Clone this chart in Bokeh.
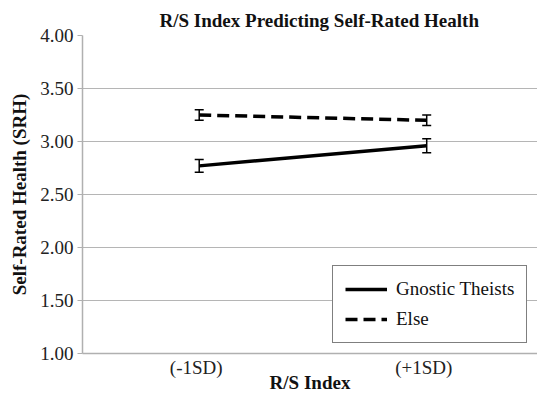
from bokeh.plotting import figure
from bokeh.models import (ColumnDataSource, FactorRange, Range1d, FixedTicker,
                          NumeralTickFormatter, Whisker, TeeHead, Legend, LegendItem)
from bokeh.transform import dodge
from bokeh.embed import file_html
from bokeh.resources import INLINE

# ---- data ----
factors = ["(-1SD)", "(+1SD)"]
gnostic = [2.77, 2.96]
gnostic_err = [0.06, 0.065]
else_vals = [3.25, 3.20]
else_err = [0.05, 0.05]
y_ticks = [1.0, 1.5, 2.0, 2.5, 3.0, 3.5, 4.0]

FONT = "Liberation Serif, Times New Roman, serif"

x_range = FactorRange(*factors, range_padding=0)
p = figure(width=537, height=395, x_range=x_range,
           y_range=Range1d(1.0, 4.0), output_backend="svg", toolbar_location=None,
           min_border_left=82, min_border_right=0, min_border_top=35, min_border_bottom=42)
p.outline_line_color = None
p.background_fill_color = "white"
p.border_fill_color = "white"

# title
p.title.text = "R/S Index Predicting Self-Rated Health"
p.title.align = "left"
p.title.offset = 77
p.title.text_font = FONT
p.title.text_font_size = "19px"
p.title.text_font_style = "bold"
p.title.text_color = "#111111"

# grid
p.xgrid.grid_line_color = None
p.ygrid.grid_line_color = "#b5b5b5"
p.ygrid.grid_line_width = 1.2
p.yaxis.ticker = FixedTicker(ticks=y_ticks)
p.yaxis.formatter = NumeralTickFormatter(format="0.00")

for ax in (p.xaxis[0], p.yaxis[0]):
    ax.axis_line_color = "#b0b0b0"
    ax.axis_line_width = 1.5
    ax.major_tick_line_color = "#b0b0b0"
    ax.major_tick_line_width = 1.2
    ax.minor_tick_line_color = None
    ax.major_label_text_font = FONT
    ax.major_label_text_font_size = "19px"
    ax.major_label_text_color = "#222222"
    ax.axis_label_text_font = FONT
    ax.axis_label_text_font_size = "19px"
    ax.axis_label_text_font_style = "bold"
    ax.axis_label_text_color = "#111111"

p.yaxis.major_tick_out = 5
p.yaxis.major_tick_in = 0
p.yaxis.major_label_standoff = 4
p.yaxis.axis_label = "Self-Rated Health (SRH)"
p.yaxis.axis_label_standoff = 7

p.xaxis.major_tick_out = 0
p.xaxis.major_tick_in = 0
p.xaxis.major_label_standoff = 3
p.xaxis.axis_label = "R/S Index"
p.xaxis.axis_label_standoff = -9

src_g = ColumnDataSource(dict(x=factors, y=gnostic,
                              up=[v + e for v, e in zip(gnostic, gnostic_err)],
                              lo=[v - e for v, e in zip(gnostic, gnostic_err)]))
src_e = ColumnDataSource(dict(x=factors, y=else_vals,
                              up=[v + e for v, e in zip(else_vals, else_err)],
                              lo=[v - e for v, e in zip(else_vals, else_err)]))

xd = dodge("x", 0.013, range=x_range)
r_g = p.line(x=xd, y="y", source=src_g, line_color="black", line_width=3.5)
r_e = p.line(x=xd, y="y", source=src_e, line_color="black", line_width=3.5, line_dash="12 6")

for src in (src_g, src_e):
    w = Whisker(source=src, base=xd, upper="up", lower="lo", line_color="black", line_width=1.5,
                upper_head=TeeHead(size=9, line_color="black", line_width=1.5),
                lower_head=TeeHead(size=9, line_color="black", line_width=1.5))
    p.add_layout(w)

legend = Legend(items=[LegendItem(label="Gnostic Theists", renderers=[r_g]),
                       LegendItem(label="Else", renderers=[r_e])],
                location=(250, 10), orientation="vertical")
legend.label_text_font = FONT
legend.label_text_font_size = "19px"
legend.label_text_color = "#111111"
legend.glyph_width = 42
legend.label_standoff = 9
legend.padding = 12
legend.spacing = 8
legend.margin = 0
legend.border_line_color = "black"
legend.border_line_width = 1.5
legend.background_fill_color = "white"
legend.background_fill_alpha = 1.0
p.add_layout(legend)

open("out.html", "w").write(file_html(p, INLINE))
